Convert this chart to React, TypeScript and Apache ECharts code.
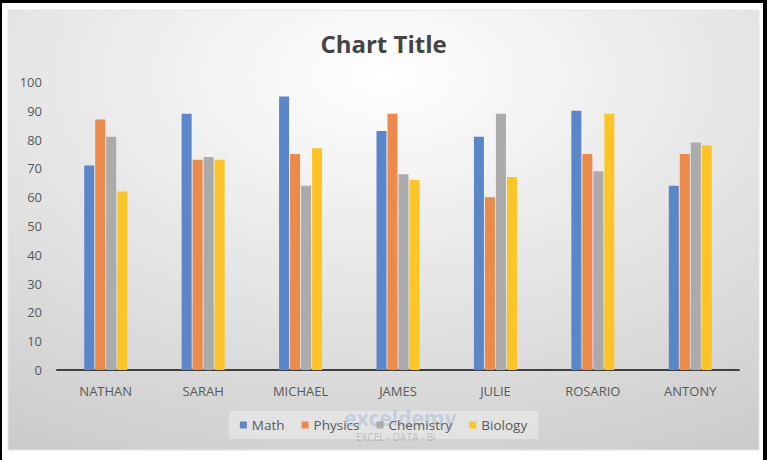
import React, { useEffect, useRef } from "react";
import * as echarts from "echarts";

const categories = ["NATHAN", "SARAH", "MICHAEL", "JAMES", "JULIE", "ROSARIO", "ANTONY"];
const math = [71, 89, 95, 83, 81, 90, 64];
const physics = [87, 73, 75, 89, 60, 75, 75];
const chemistry = [81, 74, 64, 68, 89, 69, 79];
const biology = [62, 73, 77, 66, 67, 89, 78];
const seriesNames = ["Math", "Physics", "Chemistry", "Biology"];
const colors = ["#5B86CA", "#EC8A4B", "#ABABAB", "#FCC527"];

export default function App() {
  const ref = useRef<HTMLDivElement>(null);
  useEffect(() => {
    if (!ref.current) return;
    const chart = echarts.init(ref.current, null, { renderer: "svg" });
    const data = [math, physics, chemistry, biology];
    const font = "'Open Sans', 'Noto Sans', sans-serif";
    chart.setOption({
      animation: false,
      backgroundColor: "#ffffff",
      color: colors,
      graphic: [
        { type: "rect", z: -10, silent: true, shape: { x: 0, y: 0, width: 767, height: 460 }, style: { fill: "#000" } },
        { type: "rect", z: -9, silent: true, shape: { x: 2, y: 3, width: 761, height: 457 }, style: { fill: "#fff" } },
        {
          type: "rect",
          z: -8,
          silent: true,
          shape: { x: 8, y: 10, width: 751, height: 440 },
          style: {
            fill: {
              type: "radial",
              x: 0.5,
              y: 0.15,
              r: 1.15,
              colorStops: [
                { offset: 0, color: "#ffffff" },
                { offset: 1, color: "#c2c2c2" },
              ],
            },
            stroke: "#e4e4e4",
            lineWidth: 1,
          },
        },
        {
          type: "text",
          z: 20,
          silent: true,
          left: 344,
          top: 407,
          style: {
            text: "exceldemy",
            fill: "rgba(120,150,210,0.3)",
            font: "bold 21px 'Open Sans', sans-serif",
          },
        },
        {
          type: "text",
          z: 20,
          silent: true,
          left: 356,
          top: 432,
          style: {
            text: "EXCEL - DATA - BI",
            fill: "rgba(140,140,140,0.45)",
            font: "10px 'Open Sans', sans-serif",
          },
        },
      ],
      title: {
        text: "Chart Title",
        left: "center",
        top: 26,
        textStyle: { color: "#444444", fontSize: 24, fontWeight: "bold", fontFamily: font },
      },
      legend: {
        bottom: 21,
        left: "center",
        data: seriesNames,
        icon: "rect",
        itemWidth: 7,
        itemHeight: 7,
        itemGap: 17,
        padding: [7, 11, 7, 11],
        backgroundColor: "rgba(255,255,255,0.35)",
        textStyle: { color: "#595959", fontSize: 13.5, fontFamily: font },
      },
      grid: { left: 57, right: 28, top: 82, bottom: 90, containLabel: false },
      xAxis: {
        type: "category",
        data: categories,
        axisLine: { lineStyle: { color: "#404040", width: 2 } },
        axisTick: { show: false },
        axisLabel: { color: "#595959", fontSize: 13, fontFamily: font, margin: 14 },
      },
      yAxis: {
        type: "value",
        min: 0,
        max: 100,
        interval: 10,
        splitLine: { show: false },
        axisLine: { show: false },
        axisTick: { show: false },
        axisLabel: { color: "#595959", fontSize: 13, fontFamily: font, margin: 15 },
      },
      series: seriesNames.map((name, i) => ({
        name,
        type: "bar",
        data: data[i],
        barWidth: 10,
        barGap: "10%",
        itemStyle: { color: colors[i] },
      })),
    });
    return () => chart.dispose();
  }, []);
  return <div ref={ref} style={{ position: "absolute", left: 0, top: 0, width: 767, height: 460 }} />;
}
